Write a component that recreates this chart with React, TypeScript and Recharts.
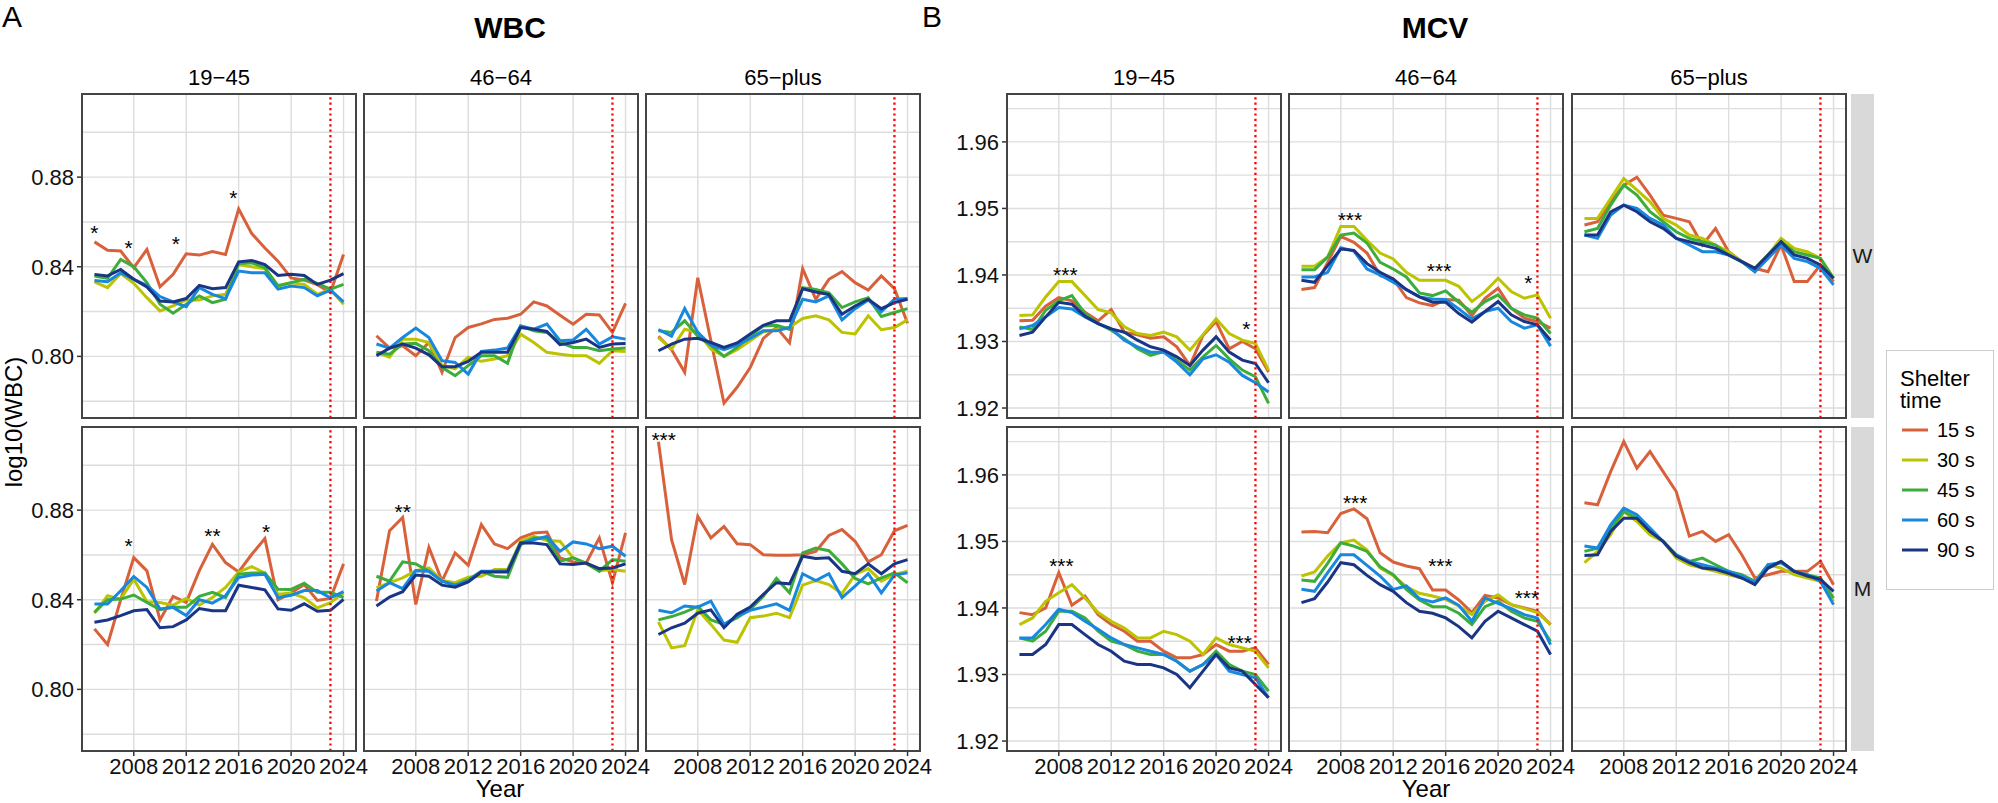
import React from "react";
import { ComposedChart, Line, XAxis, YAxis, CartesianGrid, ReferenceLine, ReferenceDot } from "recharts";

// ---------- categories / ticks ----------
const years = [2005, 2006, 2007, 2008, 2009, 2010, 2011, 2012, 2013, 2014, 2015, 2016, 2017, 2018, 2019, 2020, 2021, 2022, 2023, 2024];
const yearTicks = [2008, 2012, 2016, 2020, 2024];
const cutoffYear = 2023;
const shelterLabels = ["15 s", "30 s", "45 s", "60 s", "90 s"];
const shelterColors = ["#D8613C", "#BCC300", "#3CAD3A", "#1888DE", "#1A3586"];
const ageGroups = ["19\u221245", "46\u221264", "65\u2212plus"];
const sexGroups = ["W", "M"];
const wbcGrid = [0.78, 0.8, 0.82, 0.84, 0.86, 0.88, 0.9];
const wbcLabeled = [0.8, 0.84, 0.88];
const mcvGrid = [1.92, 1.925, 1.93, 1.935, 1.94, 1.945, 1.95, 1.955, 1.96, 1.965];
const mcvLabeled = [1.92, 1.93, 1.94, 1.95, 1.96];

// ---------- WBC, W ----------
const wbc_W_1945_15 = [0.8511, 0.8474, 0.847, 0.8396, 0.8477, 0.831, 0.8366, 0.8458, 0.8452, 0.8468, 0.8455, 0.8658, 0.8548, 0.8484, 0.8425, 0.835, 0.834, 0.832, 0.8285, 0.8455];
const wbc_W_1945_30 = [0.8332, 0.8307, 0.837, 0.8326, 0.8262, 0.8203, 0.8225, 0.8252, 0.8252, 0.827, 0.8277, 0.841, 0.84, 0.8391, 0.8317, 0.8329, 0.8321, 0.8277, 0.83, 0.8233];
const wbc_W_1945_45 = [0.8359, 0.8348, 0.8433, 0.84, 0.8329, 0.8233, 0.8193, 0.8233, 0.827, 0.824, 0.8255, 0.8415, 0.8418, 0.8396, 0.8314, 0.8329, 0.8344, 0.8326, 0.83, 0.8321];
const wbc_W_1945_60 = [0.8339, 0.8333, 0.8373, 0.8344, 0.8317, 0.8267, 0.8243, 0.8222, 0.8307, 0.8277, 0.8258, 0.8381, 0.8373, 0.8373, 0.83, 0.8314, 0.8307, 0.827, 0.8296, 0.8243];
const wbc_W_1945_90 = [0.8366, 0.8359, 0.8388, 0.8344, 0.831, 0.8247, 0.8243, 0.8258, 0.8317, 0.8302, 0.8307, 0.8422, 0.8428, 0.841, 0.8361, 0.8366, 0.8361, 0.8321, 0.834, 0.8369];
const wbc_W_1945_stars = [{ x: 2005, y: 0.8573, label: "*" }, { x: 2007.6, y: 0.8507, label: "*" }, { x: 2011.2, y: 0.8526, label: "*" }, { x: 2015.6, y: 0.8729, label: "*" }];

const wbc_W_4664_15 = [0.8092, 0.8037, 0.8047, 0.8003, 0.8062, 0.7929, 0.8084, 0.8129, 0.8145, 0.8165, 0.817, 0.8188, 0.8243, 0.8225, 0.8184, 0.8144, 0.8188, 0.8185, 0.8107, 0.8237];
const wbc_W_4664_30 = [0.8018, 0.7996, 0.8077, 0.8077, 0.8062, 0.7959, 0.7944, 0.7996, 0.7978, 0.7988, 0.8003, 0.8099, 0.8062, 0.8018, 0.801, 0.8003, 0.8003, 0.7969, 0.8025, 0.8022];
const wbc_W_4664_45 = [0.8018, 0.801, 0.8055, 0.8058, 0.8025, 0.7951, 0.7914, 0.7959, 0.8003, 0.8003, 0.7969, 0.8136, 0.8114, 0.8107, 0.8062, 0.804, 0.804, 0.8025, 0.8033, 0.8037];
const wbc_W_4664_60 = [0.8055, 0.8037, 0.8084, 0.8126, 0.8084, 0.7981, 0.7973, 0.7921, 0.8022, 0.8028, 0.8037, 0.8136, 0.8121, 0.8144, 0.807, 0.8073, 0.8121, 0.8055, 0.8087, 0.8077];
const wbc_W_4664_90 = [0.8003, 0.8037, 0.8055, 0.8037, 0.8007, 0.7954, 0.7954, 0.7978, 0.8018, 0.8018, 0.8018, 0.8129, 0.8121, 0.8111, 0.8052, 0.8062, 0.8077, 0.804, 0.8055, 0.8058];
const wbc_W_4664_stars: { x: number; y: number; label: string }[] = [];

const wbc_W_65_15 = [0.809, 0.803, 0.7929, 0.8351, 0.807, 0.7791, 0.7862, 0.795, 0.808, 0.813, 0.806, 0.8391, 0.8255, 0.8344, 0.8378, 0.8329, 0.8296, 0.8359, 0.8302, 0.8148];
const wbc_W_65_30 = [0.8084, 0.8033, 0.8121, 0.8107, 0.8033, 0.8, 0.803, 0.807, 0.811, 0.812, 0.813, 0.8169, 0.8181, 0.8163, 0.8107, 0.81, 0.8181, 0.8119, 0.8129, 0.8163];
const wbc_W_65_45 = [0.8114, 0.8107, 0.8159, 0.809, 0.805, 0.8, 0.804, 0.809, 0.8136, 0.8139, 0.8121, 0.8307, 0.8299, 0.8284, 0.8218, 0.8243, 0.8262, 0.8178, 0.8196, 0.8213];
const wbc_W_65_60 = [0.812, 0.809, 0.8213, 0.8107, 0.805, 0.803, 0.805, 0.808, 0.8114, 0.8114, 0.8129, 0.8255, 0.8243, 0.827, 0.8163, 0.8213, 0.8252, 0.8199, 0.8255, 0.8258];
const wbc_W_65_90 = [0.8025, 0.8055, 0.8077, 0.8081, 0.8062, 0.804, 0.806, 0.81, 0.8139, 0.8159, 0.8159, 0.8302, 0.8287, 0.8276, 0.8188, 0.8225, 0.8255, 0.8213, 0.824, 0.8255];
const wbc_W_65_stars: { x: number; y: number; label: string }[] = [];

// ---------- WBC, M ----------
const wbc_M_1945_15 = [0.827, 0.82, 0.84, 0.8588, 0.8529, 0.831, 0.8415, 0.8388, 0.853, 0.8647, 0.8566, 0.8524, 0.8603, 0.8673, 0.84, 0.843, 0.8468, 0.8397, 0.8406, 0.856];
const wbc_M_1945_30 = [0.834, 0.8418, 0.8403, 0.8492, 0.8391, 0.8388, 0.8376, 0.8406, 0.8376, 0.841, 0.8455, 0.8524, 0.8548, 0.8519, 0.8425, 0.843, 0.8409, 0.8364, 0.8387, 0.8431];
const wbc_M_1945_45 = [0.8344, 0.84, 0.8403, 0.8421, 0.8388, 0.8356, 0.8366, 0.8366, 0.8415, 0.8433, 0.841, 0.8514, 0.8519, 0.8519, 0.8447, 0.8446, 0.8474, 0.8433, 0.8433, 0.841];
const wbc_M_1945_60 = [0.8381, 0.8381, 0.844, 0.8504, 0.8455, 0.8359, 0.8366, 0.833, 0.84, 0.8385, 0.8418, 0.8499, 0.851, 0.8514, 0.841, 0.842, 0.8441, 0.8441, 0.8409, 0.8436];
const wbc_M_1945_90 = [0.83, 0.831, 0.8329, 0.8351, 0.8356, 0.8275, 0.828, 0.831, 0.8361, 0.8351, 0.8351, 0.8465, 0.8455, 0.8444, 0.8359, 0.8353, 0.8382, 0.8349, 0.8353, 0.8402];
const wbc_M_1945_stars = [{ x: 2007.6, y: 0.8662, label: "*" }, { x: 2014.0, y: 0.8707, label: "**" }, { x: 2018.1, y: 0.8724, label: "*" }];

const wbc_M_4664_15 = [0.8394, 0.8708, 0.8767, 0.8379, 0.8634, 0.8483, 0.8609, 0.8554, 0.8735, 0.8649, 0.8628, 0.8676, 0.8698, 0.8702, 0.8587, 0.8569, 0.8564, 0.8676, 0.8476, 0.8698];
const wbc_M_4664_30 = [0.8453, 0.8476, 0.8498, 0.853, 0.8542, 0.8486, 0.8476, 0.85, 0.8505, 0.8535, 0.8535, 0.8661, 0.8683, 0.8664, 0.8661, 0.8587, 0.856, 0.853, 0.8535, 0.8527];
const wbc_M_4664_45 = [0.8505, 0.8483, 0.8569, 0.856, 0.8527, 0.8483, 0.8465, 0.849, 0.8527, 0.8505, 0.85, 0.8646, 0.8676, 0.8676, 0.8572, 0.8587, 0.8564, 0.8527, 0.8579, 0.8572];
const wbc_M_4664_60 = [0.8439, 0.8476, 0.845, 0.853, 0.8527, 0.8483, 0.8465, 0.8483, 0.8527, 0.8527, 0.853, 0.8653, 0.8668, 0.8683, 0.8616, 0.8658, 0.8649, 0.8628, 0.8639, 0.8594];
const wbc_M_4664_90 = [0.8372, 0.8412, 0.8436, 0.851, 0.8505, 0.8465, 0.8456, 0.848, 0.8524, 0.8524, 0.8524, 0.8653, 0.8653, 0.8646, 0.856, 0.8557, 0.8564, 0.8539, 0.8542, 0.856];
const wbc_M_4664_stars = [{ x: 2007.0, y: 0.8816, label: "**" }];

const wbc_M_65_15 = [0.9105, 0.8668, 0.8468, 0.8772, 0.8676, 0.8727, 0.865, 0.8646, 0.8601, 0.8599, 0.8599, 0.8601, 0.8616, 0.8687, 0.8713, 0.8661, 0.8569, 0.8601, 0.8708, 0.8732];
const wbc_M_65_30 = [0.83, 0.8185, 0.8195, 0.8355, 0.829, 0.822, 0.821, 0.832, 0.8327, 0.834, 0.832, 0.8465, 0.8486, 0.8468, 0.8427, 0.8513, 0.8539, 0.8483, 0.8513, 0.8527];
const wbc_M_65_45 = [0.831, 0.8325, 0.8345, 0.837, 0.831, 0.829, 0.832, 0.8357, 0.8416, 0.8495, 0.8431, 0.8609, 0.8631, 0.8619, 0.856, 0.8495, 0.8471, 0.8498, 0.852, 0.8476];
const wbc_M_65_60 = [0.8353, 0.8342, 0.8372, 0.8367, 0.8394, 0.829, 0.8327, 0.8353, 0.8367, 0.8382, 0.8353, 0.8516, 0.8486, 0.8516, 0.8409, 0.8461, 0.8516, 0.8431, 0.851, 0.852];
const wbc_M_65_90 = [0.8245, 0.8275, 0.8295, 0.834, 0.8355, 0.8275, 0.8335, 0.8367, 0.8424, 0.8476, 0.8471, 0.8594, 0.8584, 0.8587, 0.8527, 0.8516, 0.856, 0.8516, 0.856, 0.8579];
const wbc_M_65_stars = [{ x: 2005.4, y: 0.9135, label: "***" }];

// ---------- MCV, W ----------
const mcv_W_1945_15 = [1.9331, 1.9332, 1.9353, 1.9366, 1.9361, 1.9344, 1.9331, 1.9348, 1.9314, 1.931, 1.9305, 1.9307, 1.9292, 1.9264, 1.9309, 1.933, 1.9289, 1.93, 1.9289, 1.9254];
const mcv_W_1945_30 = [1.9339, 1.934, 1.9367, 1.939, 1.939, 1.9369, 1.9348, 1.9343, 1.9322, 1.9312, 1.9309, 1.9314, 1.9307, 1.9287, 1.931, 1.9334, 1.9312, 1.9302, 1.9297, 1.9257];
const mcv_W_1945_45 = [1.9322, 1.9318, 1.9347, 1.9361, 1.9369, 1.9342, 1.9327, 1.9317, 1.9304, 1.9289, 1.9279, 1.9285, 1.9272, 1.9257, 1.9277, 1.9294, 1.9274, 1.9257, 1.9247, 1.9207];
const mcv_W_1945_60 = [1.9319, 1.9324, 1.9337, 1.9351, 1.9349, 1.9337, 1.9327, 1.9319, 1.9302, 1.9292, 1.9284, 1.9284, 1.9269, 1.925, 1.9274, 1.928, 1.9269, 1.9249, 1.9238, 1.9224];
const mcv_W_1945_90 = [1.9309, 1.9314, 1.9337, 1.9359, 1.9356, 1.9338, 1.9327, 1.9319, 1.9314, 1.9302, 1.9292, 1.9287, 1.9277, 1.9264, 1.9287, 1.9307, 1.9284, 1.9272, 1.9267, 1.9238];
const mcv_W_1945_stars = [{ x: 2008.5, y: 1.9407, label: "***" }, { x: 2022.3, y: 1.9327, label: "*" }];

const mcv_W_4664_15 = [1.9378, 1.9381, 1.9419, 1.9458, 1.9449, 1.9433, 1.9399, 1.9394, 1.9366, 1.9358, 1.9354, 1.9363, 1.9362, 1.9339, 1.9365, 1.938, 1.935, 1.9335, 1.933, 1.932];
const mcv_W_4664_30 = [1.9413, 1.9413, 1.9427, 1.9473, 1.9473, 1.9452, 1.9433, 1.9424, 1.9404, 1.9392, 1.9392, 1.9392, 1.9383, 1.936, 1.9375, 1.9395, 1.9375, 1.9365, 1.937, 1.9335];
const mcv_W_4664_45 = [1.9408, 1.9408, 1.9427, 1.946, 1.9463, 1.9448, 1.9419, 1.9409, 1.9397, 1.9373, 1.9369, 1.9376, 1.9359, 1.9344, 1.936, 1.937, 1.935, 1.934, 1.9335, 1.9312];
const mcv_W_4664_60 = [1.9397, 1.9397, 1.9404, 1.9441, 1.9436, 1.9409, 1.94, 1.9389, 1.9378, 1.9367, 1.9364, 1.9363, 1.9349, 1.9334, 1.9345, 1.935, 1.933, 1.932, 1.9325, 1.9293];
const mcv_W_4664_90 = [1.9392, 1.9389, 1.9414, 1.9439, 1.9437, 1.9417, 1.9404, 1.9394, 1.9378, 1.9367, 1.9359, 1.9359, 1.9342, 1.9329, 1.9345, 1.936, 1.934, 1.933, 1.9325, 1.9302];
const mcv_W_4664_stars = [{ x: 2008.7, y: 1.949, label: "***" }, { x: 2015.5, y: 1.9414, label: "***" }, { x: 2022.3, y: 1.9396, label: "*" }];

const mcv_W_65_15 = [1.9475, 1.948, 1.951, 1.9535, 1.9547, 1.952, 1.949, 1.9485, 1.948, 1.9445, 1.947, 1.9435, 1.942, 1.941, 1.9405, 1.9445, 1.939, 1.939, 1.9415, 1.939];
const mcv_W_65_30 = [1.9485, 1.9485, 1.9515, 1.9545, 1.9528, 1.951, 1.9485, 1.9475, 1.946, 1.9455, 1.9445, 1.9435, 1.942, 1.941, 1.943, 1.9455, 1.944, 1.9435, 1.9425, 1.9395];
const mcv_W_65_45 = [1.9465, 1.947, 1.9505, 1.9535, 1.952, 1.9495, 1.948, 1.9465, 1.9455, 1.945, 1.9445, 1.943, 1.942, 1.9405, 1.943, 1.945, 1.9435, 1.943, 1.9425, 1.9395];
const mcv_W_65_60 = [1.946, 1.9455, 1.949, 1.9505, 1.95, 1.9485, 1.9475, 1.9455, 1.9445, 1.9435, 1.9435, 1.943, 1.942, 1.9405, 1.9425, 1.9445, 1.9425, 1.942, 1.941, 1.9385];
const mcv_W_65_90 = [1.946, 1.946, 1.9495, 1.9505, 1.9495, 1.948, 1.947, 1.9455, 1.945, 1.9445, 1.944, 1.943, 1.942, 1.941, 1.943, 1.945, 1.943, 1.9425, 1.9415, 1.9395];
const mcv_W_65_stars: { x: number; y: number; label: string }[] = [];

// ---------- MCV, M ----------
const mcv_M_1945_15 = [1.9393, 1.939, 1.94, 1.9453, 1.9404, 1.9418, 1.939, 1.9375, 1.9365, 1.935, 1.935, 1.9335, 1.9325, 1.9325, 1.933, 1.9345, 1.9335, 1.9335, 1.934, 1.9315];
const mcv_M_1945_30 = [1.9375, 1.9385, 1.941, 1.9423, 1.9435, 1.9415, 1.9393, 1.938, 1.937, 1.9355, 1.9355, 1.9365, 1.936, 1.935, 1.933, 1.9355, 1.9345, 1.934, 1.9335, 1.931];
const mcv_M_1945_45 = [1.9355, 1.935, 1.9365, 1.9395, 1.9395, 1.9385, 1.9365, 1.935, 1.9345, 1.9335, 1.933, 1.933, 1.932, 1.9305, 1.9315, 1.9335, 1.9315, 1.9305, 1.93, 1.9275];
const mcv_M_1945_60 = [1.9355, 1.9355, 1.9375, 1.9398, 1.9393, 1.938, 1.9368, 1.9355, 1.9345, 1.934, 1.9335, 1.933, 1.932, 1.9305, 1.9315, 1.933, 1.9305, 1.93, 1.9295, 1.9265];
const mcv_M_1945_90 = [1.933, 1.933, 1.9345, 1.9375, 1.9375, 1.936, 1.9345, 1.9335, 1.932, 1.9315, 1.9315, 1.931, 1.93, 1.928, 1.9305, 1.933, 1.931, 1.9305, 1.9285, 1.9265];
const mcv_M_1945_stars = [{ x: 2008.2, y: 1.947, label: "***" }, { x: 2021.8, y: 1.9355, label: "***" }];

const mcv_M_4664_15 = [1.9514, 1.9515, 1.9513, 1.9542, 1.9549, 1.9534, 1.9483, 1.9469, 1.9463, 1.9459, 1.9427, 1.9427, 1.9412, 1.9393, 1.9419, 1.9415, 1.9405, 1.94, 1.9395, 1.9375];
const mcv_M_4664_30 = [1.9448, 1.9454, 1.9478, 1.9498, 1.9502, 1.9487, 1.946, 1.9449, 1.9432, 1.9422, 1.9418, 1.9413, 1.9403, 1.939, 1.941, 1.942, 1.9405, 1.9399, 1.9393, 1.9375];
const mcv_M_4664_45 = [1.9442, 1.944, 1.9467, 1.9498, 1.9493, 1.9485, 1.9462, 1.945, 1.9428, 1.9412, 1.9402, 1.9402, 1.9392, 1.9375, 1.9402, 1.941, 1.9395, 1.9385, 1.938, 1.935];
const mcv_M_4664_60 = [1.9428, 1.9425, 1.9453, 1.948, 1.948, 1.9464, 1.9448, 1.9428, 1.9433, 1.9414, 1.9409, 1.9415, 1.9404, 1.938, 1.9415, 1.9407, 1.9399, 1.939, 1.9385, 1.9345];
const mcv_M_4664_90 = [1.9408, 1.9414, 1.9439, 1.9468, 1.9465, 1.9449, 1.9435, 1.9425, 1.9408, 1.9395, 1.9392, 1.9385, 1.9372, 1.9355, 1.938, 1.9395, 1.9385, 1.9375, 1.9365, 1.933];
const mcv_M_4664_stars = [{ x: 2009.1, y: 1.9565, label: "***" }, { x: 2015.6, y: 1.947, label: "***" }, { x: 2022.2, y: 1.9423, label: "***" }];

const mcv_M_65_15 = [1.9558, 1.9555, 1.9605, 1.965, 1.961, 1.9635, 1.9605, 1.9575, 1.9508, 1.9515, 1.95, 1.951, 1.948, 1.9445, 1.945, 1.9455, 1.9455, 1.9455, 1.947, 1.9435];
const mcv_M_65_30 = [1.9468, 1.9485, 1.951, 1.9545, 1.953, 1.951, 1.95, 1.9475, 1.9465, 1.946, 1.9455, 1.945, 1.9445, 1.944, 1.9465, 1.946, 1.945, 1.9445, 1.944, 1.941];
const mcv_M_65_45 = [1.9485, 1.949, 1.952, 1.9545, 1.9535, 1.9515, 1.95, 1.948, 1.947, 1.9475, 1.9465, 1.9455, 1.945, 1.944, 1.946, 1.947, 1.9455, 1.945, 1.9445, 1.9415];
const mcv_M_65_60 = [1.9493, 1.949, 1.9525, 1.955, 1.954, 1.952, 1.95, 1.948, 1.947, 1.9465, 1.946, 1.9455, 1.9448, 1.9438, 1.9465, 1.9468, 1.9455, 1.945, 1.944, 1.9405];
const mcv_M_65_90 = [1.9479, 1.948, 1.9515, 1.9535, 1.9535, 1.9515, 1.95, 1.9478, 1.9468, 1.946, 1.9458, 1.9452, 1.9445, 1.9435, 1.946, 1.947, 1.9455, 1.9448, 1.9443, 1.9425];
const mcv_M_65_stars: { x: number; y: number; label: string }[] = [];

// ---------- layout ----------
const FONT = "'Liberation Sans', Arial, Helvetica, sans-serif";
const PW = 274;
const PH = 324;
const AXW = 90;
const AXH = 55;
const BPAD = 14;
const RPAD = 40;
const rowTops = [94, 427];
const wbcLefts = [82, 364, 646];
const mcvLefts = [1007, 1289, 1572];
const xDomain = [2004.05, 2024.95];
const wbcDomain = [0.7725, 0.9171];
const mcvDomain = [1.9185, 1.9672];

type Star = { x: number; y: number; label: string };

function YTick(props: any) {
  const { y, payload, labeled } = props;
  const v = payload.value;
  const isMajor = labeled.some((l: number) => Math.abs(l - v) < 1e-6);
  if (!isMajor) return null;
  return (
    <g>
      <line x1={AXW - 5} x2={AXW} y1={y} y2={y} stroke="#333" strokeWidth={1.5} />
      <text x={AXW - 8} y={y} dy="0.36em" textAnchor="end" fontSize={22} fill="#111" fontFamily={FONT}>
        {v.toFixed(2)}
      </text>
    </g>
  );
}

function XTick(props: any) {
  const { x, payload } = props;
  return (
    <g>
      <line x1={x} x2={x} y1={PH} y2={PH + 5} stroke="#333" strokeWidth={1.5} />
      <text x={x} y={PH + 6} dy="0.76em" textAnchor="middle" fontSize={22} fill="#111" fontFamily={FONT}>
        {payload.value}
      </text>
    </g>
  );
}

function Panel(props: {
  left: number;
  top: number;
  series: number[][];
  domain: number[];
  grid: number[];
  labeled: number[];
  showY: boolean;
  showX: boolean;
  stars: Star[];
}) {
  const { left, top, series, domain, grid, labeled, showY, showX, stars } = props;
  const L = showY ? AXW : 0;
  const B = showX ? AXH : BPAD;
  const MB = showX ? 0 : BPAD;
  const R = showX ? RPAD : 0;
  const data = years.map((yr, i) => {
    const r: any = { year: yr };
    series.forEach((s, k) => {
      r["s" + k] = s[i];
    });
    return r;
  });
  return (
    <>
      <div style={{ position: "absolute", left: left - L, top, width: PW + L + R, height: PH + B }}>
        <ComposedChart width={PW + L + R} height={PH + B} data={data} margin={{ top: 0, right: R, bottom: MB, left: 0 }}>
          <CartesianGrid stroke="#DDDDDD" strokeWidth={1.4} />
          <XAxis
            dataKey="year"
            type="number"
            domain={xDomain}
            ticks={yearTicks}
            interval={0}
            allowDataOverflow
            hide={!showX}
            height={showX ? AXH : 0}
            axisLine={false}
            tickLine={false}
            tick={<XTick />}
          />
          <YAxis
            type="number"
            domain={domain}
            ticks={grid}
            interval={0}
            allowDataOverflow
            hide={!showY}
            width={L}
            axisLine={false}
            tickLine={false}
            tick={<YTick labeled={labeled} />}
          />
          {series.map((_, k) => (
            <Line
              key={k}
              type="linear"
              dataKey={"s" + k}
              stroke={shelterColors[k]}
              strokeWidth={3}
              dot={false}
              activeDot={false}
              isAnimationActive={false}
            />
          ))}
          <ReferenceLine x={cutoffYear} stroke="#FF0000" strokeWidth={2.3} strokeDasharray="2.2 3.2" />
          {stars.map((s, i) => (
            <ReferenceDot
              key={i}
              x={s.x}
              y={s.y}
              r={0}
              ifOverflow="visible"
              shape={(p: any) => (
                <text x={p.cx} y={p.cy + 12} textAnchor="middle" fontSize={21} fill="#000" fontFamily={FONT}>
                  {s.label}
                </text>
              )}
            />
          ))}
        </ComposedChart>
      </div>
      <div
        style={{
          position: "absolute",
          left: left - 1,
          top: top - 1,
          width: PW + 2,
          height: PH + 2,
          boxSizing: "border-box",
          border: "2px solid #444",
          pointerEvents: "none",
        }}
      />
    </>
  );
}

const wbcPanels = [
  [
    { s: [wbc_W_1945_15, wbc_W_1945_30, wbc_W_1945_45, wbc_W_1945_60, wbc_W_1945_90], st: wbc_W_1945_stars },
    { s: [wbc_W_4664_15, wbc_W_4664_30, wbc_W_4664_45, wbc_W_4664_60, wbc_W_4664_90], st: wbc_W_4664_stars },
    { s: [wbc_W_65_15, wbc_W_65_30, wbc_W_65_45, wbc_W_65_60, wbc_W_65_90], st: wbc_W_65_stars },
  ],
  [
    { s: [wbc_M_1945_15, wbc_M_1945_30, wbc_M_1945_45, wbc_M_1945_60, wbc_M_1945_90], st: wbc_M_1945_stars },
    { s: [wbc_M_4664_15, wbc_M_4664_30, wbc_M_4664_45, wbc_M_4664_60, wbc_M_4664_90], st: wbc_M_4664_stars },
    { s: [wbc_M_65_15, wbc_M_65_30, wbc_M_65_45, wbc_M_65_60, wbc_M_65_90], st: wbc_M_65_stars },
  ],
];
const mcvPanels = [
  [
    { s: [mcv_W_1945_15, mcv_W_1945_30, mcv_W_1945_45, mcv_W_1945_60, mcv_W_1945_90], st: mcv_W_1945_stars },
    { s: [mcv_W_4664_15, mcv_W_4664_30, mcv_W_4664_45, mcv_W_4664_60, mcv_W_4664_90], st: mcv_W_4664_stars },
    { s: [mcv_W_65_15, mcv_W_65_30, mcv_W_65_45, mcv_W_65_60, mcv_W_65_90], st: mcv_W_65_stars },
  ],
  [
    { s: [mcv_M_1945_15, mcv_M_1945_30, mcv_M_1945_45, mcv_M_1945_60, mcv_M_1945_90], st: mcv_M_1945_stars },
    { s: [mcv_M_4664_15, mcv_M_4664_30, mcv_M_4664_45, mcv_M_4664_60, mcv_M_4664_90], st: mcv_M_4664_stars },
    { s: [mcv_M_65_15, mcv_M_65_30, mcv_M_65_45, mcv_M_65_60, mcv_M_65_90], st: mcv_M_65_stars },
  ],
];

const txt = (extra: React.CSSProperties): React.CSSProperties => ({
  position: "absolute",
  fontFamily: FONT,
  color: "#000",
  whiteSpace: "nowrap",
  lineHeight: 1,
  ...extra,
});

export default function App() {
  return (
    <div style={{ position: "absolute", left: 0, top: 0, width: 1998, height: 803, background: "#fff", overflow: "hidden" }}>
      {/* panel letters and titles */}
      <div style={txt({ left: 2, top: 2, fontSize: 30 })}>A</div>
      <div style={txt({ left: 922, top: 2, fontSize: 30 })}>B</div>
      <div style={txt({ left: 510, top: 28, fontSize: 30, fontWeight: "bold", transform: "translate(-50%,-50%)" })}>WBC</div>
      <div style={txt({ left: 1435, top: 28, fontSize: 30, fontWeight: "bold", transform: "translate(-50%,-50%)" })}>MCV</div>

      {/* top strips */}
      {ageGroups.map((a, i) => (
        <React.Fragment key={a}>
          <div style={txt({ left: wbcLefts[i] + PW / 2, top: 78, fontSize: 22, transform: "translate(-50%,-50%)" })}>{a}</div>
          <div style={txt({ left: mcvLefts[i] + PW / 2, top: 78, fontSize: 22, transform: "translate(-50%,-50%)" })}>{a}</div>
        </React.Fragment>
      ))}

      {/* right strips on MCV */}
      {sexGroups.map((sx, r) => (
        <div
          key={sx}
          style={{
            position: "absolute",
            left: 1851,
            top: rowTops[r],
            width: 23,
            height: PH,
            background: "#D9D9D9",
            display: "flex",
            alignItems: "center",
            justifyContent: "center",
            fontFamily: FONT,
            fontSize: 21,
            color: "#1A1A1A",
          }}
        >
          {sx}
        </div>
      ))}

      {/* panels */}
      {wbcPanels.map((row, r) =>
        row.map((p, c) => (
          <Panel
            key={"w" + r + c}
            left={wbcLefts[c]}
            top={rowTops[r]}
            series={p.s}
            domain={wbcDomain}
            grid={wbcGrid}
            labeled={wbcLabeled}
            showY={c === 0}
            showX={r === 1}
            stars={p.st}
          />
        ))
      )}
      {mcvPanels.map((row, r) =>
        row.map((p, c) => (
          <Panel
            key={"m" + r + c}
            left={mcvLefts[c]}
            top={rowTops[r]}
            series={p.s}
            domain={mcvDomain}
            grid={mcvGrid}
            labeled={mcvLabeled}
            showY={c === 0}
            showX={r === 1}
            stars={p.st}
          />
        ))
      )}

      {/* axis titles */}
      <div style={txt({ left: 14, top: 422, fontSize: 24, transform: "translate(-50%,-50%) rotate(-90deg)" })}>log10(WBC)</div>
      <div style={txt({ left: 500, top: 789, fontSize: 24, transform: "translate(-50%,-50%)" })}>Year</div>
      <div style={txt({ left: 1426, top: 789, fontSize: 24, transform: "translate(-50%,-50%)" })}>Year</div>

      {/* legend */}
      <svg style={{ position: "absolute", left: 1886, top: 350, overflow: "visible" }} width={108} height={240}>
        <rect x={0.5} y={0.5} width={107} height={239} fill="#fff" stroke="#CCCCCC" strokeWidth={1} />
        <text x={14} y={36} fontSize={22} fontFamily={FONT} fill="#000">Shelter</text>
        <text x={14} y={58} fontSize={22} fontFamily={FONT} fill="#000">time</text>
        {shelterLabels.map((lab, k) => (
          <g key={lab}>
            <line x1={16} x2={42} y1={80 + k * 30} y2={80 + k * 30} stroke={shelterColors[k]} strokeWidth={3} />
            <text x={51} y={80 + k * 30} dy="0.36em" fontSize={20} fontFamily={FONT} fill="#000">{lab}</text>
          </g>
        ))}
      </svg>
    </div>
  );
}
